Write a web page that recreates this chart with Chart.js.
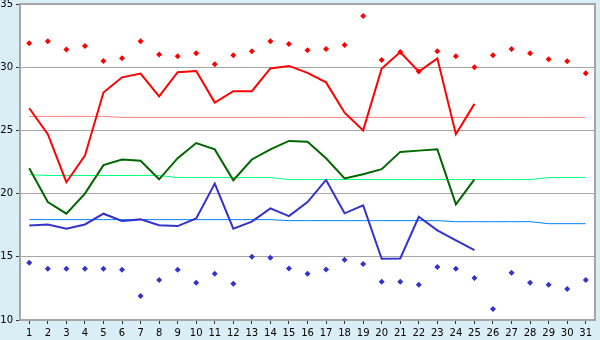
<!DOCTYPE html>
<html>
<head>
<meta charset="utf-8">
<script src="https://cdn.jsdelivr.net/npm/chart.js@4/dist/chart.umd.min.js"></script>
<style>
    html, body { margin: 0; padding: 0; background: #d9eef5; }
    #wrap { width: 600px; height: 340px; }
</style>
</head>
<body>
<div id="wrap"><canvas id="temp-chart"></canvas></div>
<script>
    "use strict";

    // day labels on the x axis
    const days = ['1', '2', '3', '4', '5', '6', '7', '8', '9', '10', '11', '12', '13', '14', '15', '16',
        '17', '18', '19', '20', '21', '22', '23', '24', '25', '26', '27', '28', '29', '30', '31'];
    const yTicks = [10, 15, 20, 25, 30, 35];

    // daily series (this month, up to day 25)
    const highLine = [26.75, 24.7, 20.9, 23.0, 28.0, 29.2, 29.5, 27.7, 29.6, 29.7, 27.2, 28.1, 28.1,
        29.9, 30.1, 29.55, 28.8, 26.4, 25.0, 29.9, 31.2, 29.65, 30.7, 24.7, 27.1];
    const meanLine = [22.0, 19.33, 18.41, 20.0, 22.25, 22.7, 22.6, 21.13, 22.8, 24.0, 23.5, 21.06, 22.7,
        23.5, 24.17, 24.1, 22.8, 21.2, 21.53, 21.93, 23.3, 23.4, 23.5, 19.15, 21.13];
    const lowLine = [17.48, 17.56, 17.22, 17.56, 18.41, 17.83, 17.96, 17.5, 17.43, 18.04, 20.79, 17.22,
        17.78, 18.83, 18.22, 19.33, 21.08, 18.44, 19.07, 14.84, 14.87, 18.17, 17.09, 16.29, 15.52];

    // record extremes (diamonds)
    const recordHigh = [31.9, 32.06, 31.4, 31.67, 30.5, 30.7, 32.06, 31.0, 30.87, 31.1, 30.24, 30.95,
        31.27, 32.06, 31.83, 31.35, 31.43, 31.75, 34.05, 30.56, 31.2, 29.65, 31.27, 30.87, 30.0, 30.95,
        31.43, 31.1, 30.63, 30.48, 29.52];
    const recordLow = [14.52, 14.05, 14.05, 14.05, 14.05, 13.97, 11.9, 13.17, 13.97, 12.94, 13.65, 12.86,
        15.0, 14.92, 14.07, 13.65, 14.0, 14.76, 14.44, 13.02, 13.02, 12.78, 14.2, 14.05, 13.33, 10.87,
        13.73, 12.94, 12.78, 12.46, 13.17];

    // long-term normals
    const normalHigh = [26.11, 26.11, 26.11, 26.11, 26.11, 26.03, 26.03, 26.03, 26.03, 26.03, 26.03,
        26.03, 26.03, 26.03, 26.03, 26.03, 26.03, 26.03, 26.03, 26.03, 26.03, 26.03, 26.03, 26.03, 26.03,
        26.03, 26.03, 26.03, 26.03, 26.03, 26.03];
    const normalMean = [21.5, 21.43, 21.43, 21.43, 21.43, 21.43, 21.43, 21.43, 21.27, 21.27, 21.27, 21.27,
        21.27, 21.27, 21.11, 21.11, 21.11, 21.11, 21.11, 21.11, 21.11, 21.11, 21.11, 21.11, 21.11, 21.11,
        21.11, 21.11, 21.27, 21.27, 21.27];
    const normalLow = [17.94, 17.94, 17.94, 17.94, 17.94, 17.94, 17.94, 17.94, 17.94, 17.94, 17.94, 17.94,
        17.94, 17.94, 17.86, 17.86, 17.86, 17.86, 17.86, 17.86, 17.86, 17.86, 17.86, 17.78, 17.78, 17.78,
        17.78, 17.78, 17.62, 17.62, 17.62];

    const gridGrey = '#a6a6a6';

    function lineSet(data, color, width) {
        return {
            data: data,
            borderColor: color,
            borderWidth: width,
            pointRadius: 0,
            tension: 0,
            fill: false
        };
    }

    function dotSet(data, color) {
        return {
            data: data,
            showLine: false,
            pointStyle: 'rectRot',
            pointRadius: 3,
            pointBackgroundColor: color,
            pointBorderColor: color,
            pointBorderWidth: 0,
            borderColor: color
        };
    }

    // light blue page, white plot area, grey frame on top/right
    const frame = {
        id: 'frame',
        beforeDraw(chart) {
            const ctx = chart.ctx;
            const a = chart.chartArea;
            ctx.save();
            ctx.fillStyle = '#d9eef5';
            ctx.fillRect(0, 0, chart.width, chart.height);
            ctx.fillStyle = '#ffffff';
            ctx.fillRect(a.left, a.top, a.right - a.left, a.bottom - a.top);
            ctx.restore();
        },
        afterDraw(chart) {
            const ctx = chart.ctx;
            const a = chart.chartArea;
            ctx.save();
            ctx.strokeStyle = gridGrey;
            ctx.lineWidth = 2;
            ctx.beginPath();
            ctx.moveTo(a.left, a.top);
            ctx.lineTo(a.right, a.top);
            ctx.lineTo(a.right, a.bottom);
            ctx.stroke();
            ctx.restore();
        }
    };

    new Chart(document.getElementById('temp-chart'), {
        type: 'line',
        data: {
            labels: days,
            datasets: [
                dotSet(recordHigh, '#ff0000'),
                dotSet(recordLow, '#3333cc'),
                lineSet(highLine, '#ff0000', 2),
                lineSet(meanLine, '#006600', 2),
                lineSet(lowLine, '#3333cc', 2),
                lineSet(normalHigh, '#ff8080', 1),
                lineSet(normalMean, '#00ff80', 1),
                lineSet(normalLow, '#0080ff', 1)
            ]
        },
        options: {
            responsive: true,
            maintainAspectRatio: false,
            animation: false,
            layout: { padding: { top: 0, right: 5, left: 0, bottom: 0 } },
            plugins: {
                legend: { display: false },
                tooltip: { enabled: false }
            },
            font: { family: 'DejaVu Sans', size: 10 },
            scales: {
                x: {
                    offset: true,
                    grid: {
                        drawOnChartArea: false,
                        tickLength: 4,
                        tickColor: '#333333',
                        offset: false
                    },
                    border: { color: gridGrey, width: 2 },
                    ticks: {
                        color: '#000000',
                        font: { family: 'DejaVu Sans', size: 10 },
                        padding: 3,
                        maxRotation: 0,
                        autoSkip: false
                    },
                    afterFit: s => { s.height = 20; }
                },
                y: {
                    min: yTicks[0],
                    max: yTicks[yTicks.length - 1],
                    afterBuildTicks: s => { s.ticks = yTicks.map(v => ({ value: v })); },
                    grid: {
                        color: gridGrey,
                        lineWidth: 1,
                        tickLength: 4,
                        tickColor: '#333333'
                    },
                    border: { color: gridGrey, width: 2 },
                    ticks: {
                        color: '#000000',
                        font: { family: 'DejaVu Sans', size: 10 },
                        padding: 3
                    },
                    afterFit: s => { s.width = 20; s.paddingTop = 0; }
                }
            }
        },
        plugins: [frame]
    });
</script>
</body>
</html>
